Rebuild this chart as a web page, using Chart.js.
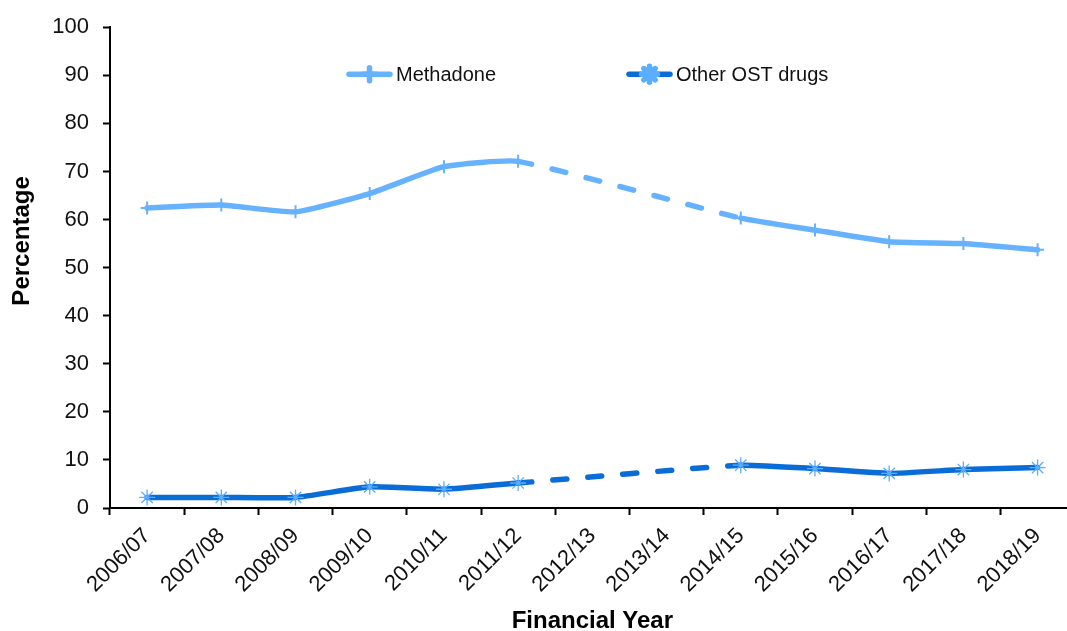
<!DOCTYPE html>
<html>
<head>
<meta charset="utf-8">
<script src="https://cdn.jsdelivr.net/npm/chart.js@4.4.1/dist/chart.umd.min.js"></script>
<style>
  html, body { margin: 0; padding: 0; background: #fff; overflow: hidden; }
  #wrap { width: 1067px; height: 631px; overflow: hidden; }
</style>
</head>
<body>
<div id="wrap"><canvas id="chart" width="1084" height="636"></canvas></div>
<script>
// Financial years on the x axis
const years = ['2006/07', '2007/08', '2008/09', '2009/10', '2010/11', '2011/12', '2012/13',
    '2013/14', '2014/15', '2015/16', '2016/17', '2017/18', '2018/19'];

// Percentages (no data for 2012/13 and 2013/14)
const methadone = [62.4, 63.0, 61.6, 65.4, 71.0, 72.1, null, null, 60.3, 57.8, 55.4, 55.0, 53.7];
const otherOst = [2.2, 2.2, 2.2, 4.4, 3.9, 5.2, null, null, 8.9, 8.2, 7.2, 8.0, 8.4];

const yTicks = [0, 10, 20, 30, 40, 50, 60, 70, 80, 90, 100];

const FONT = "'Liberation Sans', Arial, sans-serif";

// dashed segment across the missing years
let gapDash = function (ctx) {
    return ctx.p0.skip || ctx.p1.skip ? [14, 21] : undefined;
};

// Excel-like legend: line sample with the marker in the middle, inside the plot area
const lineLegend = {
    id: 'lineLegend',
    afterDraw(chart, args, opts) {
        const ctx = chart.ctx;
        const y = chart.chartArea.top + opts.offsetY;
        chart.data.datasets.forEach((ds, i) => {
            const x = opts.xs[i];
            ctx.save();
            ctx.strokeStyle = ds.borderColor;
            ctx.lineWidth = ds.borderWidth;
            ctx.lineCap = 'round';
            ctx.beginPath();
            ctx.moveTo(x + 2, y);
            ctx.lineTo(x + opts.boxWidth - 2, y);
            ctx.stroke();
            ctx.strokeStyle = ds.pointBorderColor;
            ctx.fillStyle = ds.pointBackgroundColor;
            Chart.helpers.drawPoint(ctx, {
                pointStyle: ds.pointStyle,
                radius: ds.pointRadius,
                borderWidth: ds.pointBorderWidth
            }, x + opts.boxWidth / 2, y);
            ctx.fillStyle = '#111';
            ctx.font = '20px ' + FONT;
            ctx.textBaseline = 'middle';
            ctx.fillText(ds.label, x + opts.boxWidth + 4, y + 1);
            ctx.restore();
        });
    }
};

new Chart(document.getElementById('chart'), {
    type: 'line',
    data: {
        labels: years,
        datasets: [{
            label: 'Methadone',
            data: methadone,
            borderColor: '#66b2ff',
            borderWidth: 5.5,
            borderCapStyle: 'round',
            pointStyle: 'cross',
            pointRadius: 6.5,
            pointBorderWidth: 2,
            pointBorderColor: '#66b2ff',
            pointBackgroundColor: '#66b2ff',
            tension: 0.15,
            spanGaps: true,
            segment: { borderDash: gapDash }
        }, {
            label: 'Other OST drugs',
            data: otherOst,
            borderColor: '#0a6cd6',
            borderWidth: 5.5,
            borderCapStyle: 'round',
            pointStyle: 'star',
            pointRadius: 8,
            pointBorderWidth: 1.3,
            pointBorderColor: '#5aaeff',
            pointBackgroundColor: '#5aaeff',
            tension: 0.15,
            spanGaps: true,
            segment: { borderDash: gapDash }
        }]
    },
    options: {
        responsive: false,
        animation: false,
        devicePixelRatio: 1,
        layout: {
            padding: { top: 20, left: 0, right: 0, bottom: 0 }
        },
        plugins: {
            legend: { display: false },
            tooltip: { enabled: false },
            lineLegend: { xs: [347, 627], boxWidth: 45, offsetY: 47 }
        },
        scales: {
            x: {
                type: 'category',
                offset: true,
                afterFit: function (axis) {
                    axis.height = 128;
                },
                grid: {
                    display: true,
                    offset: true,
                    drawOnChartArea: false,
                    drawTicks: true,
                    tickLength: 7,
                    tickWidth: 2,
                    color: '#000'
                },
                border: { display: true, color: '#000', width: 2 },
                ticks: {
                    autoSkip: false,
                    minRotation: 45,
                    maxRotation: 45,
                    padding: 8,
                    color: '#111',
                    font: { family: FONT, size: 22 }
                },
                title: {
                    display: true,
                    text: 'Financial Year',
                    color: '#000',
                    font: { family: FONT, size: 24, weight: 'bold' },
                    padding: { top: 0, bottom: 0 }
                }
            },
            y: {
                min: 0,
                max: 100,
                afterBuildTicks: function (axis) {
                    axis.ticks = yTicks.map(v => ({ value: v }));
                },
                afterFit: function (axis) {
                    axis.width = 110;
                },
                grid: {
                    display: true,
                    drawOnChartArea: false,
                    drawTicks: true,
                    tickLength: 7,
                    tickWidth: 2,
                    color: '#000'
                },
                border: { display: true, color: '#000', width: 2 },
                ticks: {
                    padding: 14,
                    color: '#111',
                    font: { family: FONT, size: 22 }
                },
                title: {
                    display: true,
                    // leading spaces lift the title a little above the middle, as in the original
                    text: '\u00a0\u00a0\u00a0\u00a0\u00a0\u00a0\u00a0\u00a0Percentage',
                    color: '#000',
                    font: { family: FONT, size: 24, weight: 'bold' },
                    padding: { top: 8, bottom: 0 }
                }
            }
        }
    },
    plugins: [lineLegend]
});
</script>
</body>
</html>
